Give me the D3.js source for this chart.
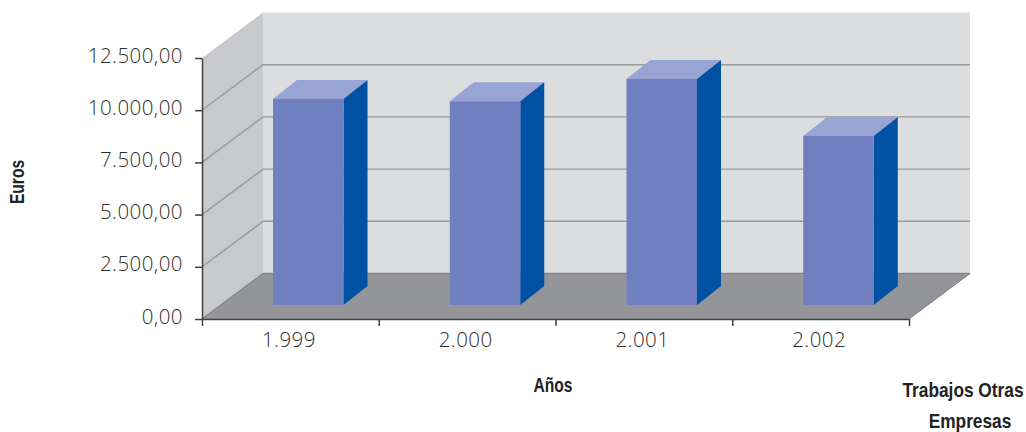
<!DOCTYPE html>
<html><head><meta charset="utf-8">
<script src="https://cdn.jsdelivr.net/npm/d3@7"></script>
<style>
html,body{margin:0;padding:0;background:#fff}
svg{display:block}
.tick-label{font-family:"Open Sans",sans-serif;font-weight:300;font-size:20.5px;letter-spacing:.45px;fill:#2e2e2e}
.title{font-family:"Liberation Sans",sans-serif;font-weight:700;font-size:20px;fill:#222}
</style></head><body>
<svg id="c" width="1026" height="432"></svg>
<script>
const categories = ["1.999","2.000","2.001","2.002"];
const values = [9866,9770,10824,8094];
const yTicks = [0,2500,5000,7500,10000,12500];
const yTickLabels = ["0,00","2.500,00","5.000,00","7.500,00","10.000,00","12.500,00"];
const yTitle = "Euros", xTitle = "Años", seriesTitle = ["Trabajos Otras","Empresas"];

const svg = d3.select("#c");
const x = d3.scaleBand().domain(categories).range([202,909]).paddingInner(0).paddingOuter(0);
const y = d3.scaleLinear().domain([0,12500]).range([319,58]);
const dx = 61, dy = -45.5;        // full depth of the 3D box
const inset = 0.305, ddx = 24, ddy = -19; // bar placement inside depth
const barOffset = 52.4, barW = 70.5;
const line = d3.line();
const poly = (pts,fill)=>svg.append("path").attr("d",line(pts)+"Z").attr("fill",fill);
const x0=x.range()[0], x1=x.range()[1], y0=y(0), yT=y(12500);

// walls
poly([[x0+dx,y0+dy],[x1+dx,y0+dy],[x1+dx,yT+dy],[x0+dx,yT+dy]],"#dcddDf");
poly([[x0,y0],[x0+dx,y0+dy],[x0+dx,yT+dy],[x0,yT]],"#c8c9cd");
// gridlines
yTicks.slice(0,-1).forEach(t=>{
  svg.append("path").attr("d",line([[x0,y(t)],[x0+dx,y(t)+dy],[x1+dx,y(t)+dy]]))
    .attr("fill","none").attr("stroke","#98999b").attr("stroke-width",1.4);
});
// floor
poly([[x0,y0],[x0+dx,y0+dy],[x1+dx,y0+dy],[x1,y0]],"#949598");
svg.append("path").attr("d",line([[x0,y0],[x0+dx,y0+dy],[x1+dx,y0+dy],[x1,y0]]))
  .attr("fill","none").attr("stroke","#808184").attr("stroke-width",1);

// bars
categories.forEach((c,i)=>{
  const l = x(c)+barOffset+dx*inset, r = l+barW;
  const b = y0+dy*inset, t = y(values[i])+dy*inset;
  poly([[l,t],[l+ddx,t+ddy],[r+ddx,t+ddy],[r,t]],"#98a4d4");
  poly([[r,t],[r+ddx,t+ddy],[r+ddx,b+ddy],[r,b]],"#0050a4");
  poly([[l,t],[r,t],[r,b],[l,b]],"#6f7fc0");
});

// axes
const gy = svg.append("g").attr("transform",`translate(${x0},0)`)
  .call(d3.axisLeft(y).tickValues(yTicks).tickSize(7).tickSizeOuter(0).tickFormat(""));
const gx = svg.append("g").attr("transform",`translate(0,${y0})`)
  .call(d3.axisBottom(d3.scaleLinear().domain([0,categories.length]).range(x.range()))
    .tickValues(d3.range(categories.length+1)).tickSize(7).tickSizeOuter(0).tickFormat(""));
[gy,gx].forEach(g=>{g.selectAll("path,line").attr("stroke","#404040").attr("stroke-width",1.5);});

// labels
svg.selectAll(".yl").data(yTicks).join("text").attr("class","tick-label")
  .attr("x",183).attr("y",d=>y(d)+4.5).attr("text-anchor","end")
  .text((d,i)=>yTickLabels[i]);
svg.selectAll(".xl").data(categories).join("text").attr("class","tick-label")
  .attr("x",d=>x(d)+x.bandwidth()/2-1.5).attr("y",347).attr("text-anchor","middle").text(d=>d);
const title = (tx,ty,rot,s,narrow)=>svg.append("text").attr("class","title")
  .attr("transform",`translate(${tx},${ty}) rotate(${rot}) scale(${narrow},1)`)
  .attr("text-anchor","middle").text(s);
title(553,392,0,xTitle,0.78);
title(24,182,-90,yTitle,0.78);
title(963,397,0,seriesTitle[0],0.865);
title(970,428,0,seriesTitle[1],0.865);
</script></body></html>
